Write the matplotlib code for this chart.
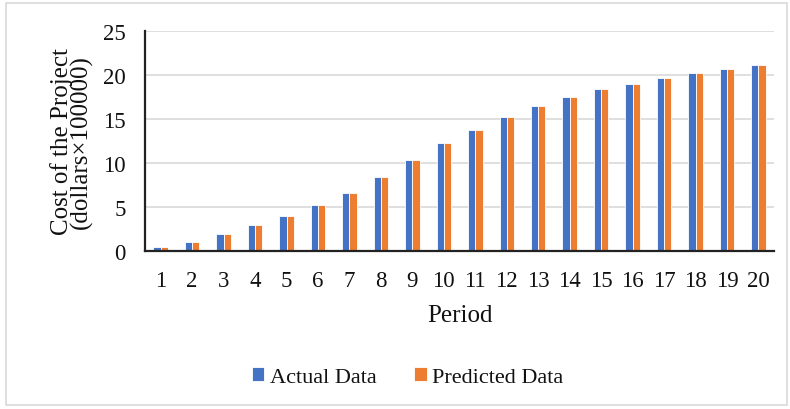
import matplotlib
matplotlib.use('Agg')
import matplotlib.pyplot as plt
import numpy as np
from matplotlib.patches import Rectangle

# Cost of the project per period (dollars x 100000)
periods = list(range(1, 21))
actual = [0.4, 1.0, 1.86, 2.92, 3.98, 5.23, 6.52, 8.38, 10.3, 12.24,
          13.68, 15.15, 16.4, 17.47, 18.34, 18.94, 19.58, 20.23, 20.65, 21.07]
predicted = [0.4, 1.0, 1.86, 2.92, 3.98, 5.23, 6.52, 8.38, 10.3, 12.24,
             13.68, 15.15, 16.4, 17.47, 18.34, 18.94, 19.58, 20.23, 20.65, 21.07]
yticks = [0, 5, 10, 15, 20, 25]

BLUE = '#4472C4'
ORANGE = '#ED7D31'

plt.rcParams['font.family'] = ['Liberation Serif', 'DejaVu Serif']

fig = plt.figure(figsize=(7.9, 4.1), dpi=100)
fig.patches.append(Rectangle((0.008, 0.01), 0.988, 0.98, transform=fig.transFigure,
                             fill=False, edgecolor='#d9d9d9', linewidth=1.2))

ax = fig.add_axes([0.1835, 0.386, 0.7965, 0.537])
x = np.arange(len(periods))
w = 0.23
ax.bar(x - w / 2, actual, w, color=BLUE, edgecolor='white', linewidth=0.6,
       label='Actual Data', zorder=3)
ax.bar(x + w / 2, predicted, w, color=ORANGE, edgecolor='white', linewidth=0.6,
       label='Predicted Data', zorder=3)

ax.set_xlim(-0.5, len(periods) - 0.5)
ax.set_ylim(0, 25)
ax.set_yticks(yticks)
ax.set_xticks(x)
ax.set_xticklabels([str(p) for p in periods])
ax.tick_params(axis='both', length=0, labelsize=16.5, colors='#111111')
ax.tick_params(axis='y', pad=14)
ax.tick_params(axis='x', pad=14)
ax.grid(axis='y', color='#d9d9d9', linewidth=1.2, zorder=0)
for s in ['top', 'right']:
    ax.spines[s].set_visible(False)
for s in ['left', 'bottom']:
    ax.spines[s].set_color('#222222')
    ax.spines[s].set_linewidth(1.6)
    ax.spines[s].set_zorder(4)

ax.set_xlabel('Period', fontsize=18, labelpad=9, color='#111111')
ax.set_ylabel('Cost of the Project\n(dollars\u00d7100000)', fontsize=18,
              labelpad=7, linespacing=0.82, color='#111111')

fig.legend(loc='center', bbox_to_anchor=(0.516, 0.078), ncol=2, frameon=False,
           fontsize=16, handlelength=0.55, handleheight=0.55, handletextpad=0.25,
           columnspacing=1.7, labelcolor='#111111')

fig.savefig('out.png', dpi=100, facecolor='white')
